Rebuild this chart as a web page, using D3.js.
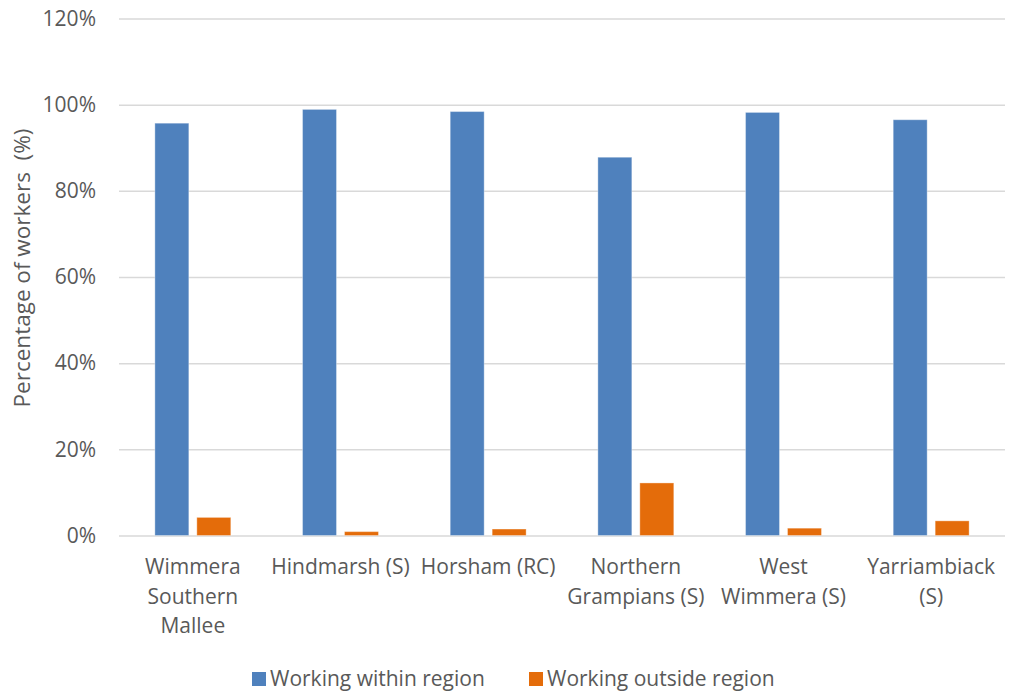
<!DOCTYPE html>
<html>
<head>
<meta charset="utf-8">
<script src="https://cdn.jsdelivr.net/npm/d3@7"></script>
<style>
  html, body { margin: 0; padding: 0; background: #fff; }
  svg text { font-family: "Open Sans", sans-serif; fill: #595959; }
</style>
</head>
<body>
<svg id="chart" width="1015" height="691"></svg>
<script>
const categories = [
  "Wimmera\nSouthern\nMallee",
  "Hindmarsh (S)",
  "Horsham (RC)",
  "Northern\nGrampians (S)",
  "West\nWimmera (S)",
  "Yarriambiack\n(S)"
];
const seriesNames = ["Working within region", "Working outside region"];
const withinRegion = [95.7, 98.9, 98.4, 87.8, 98.2, 96.5];
const outsideRegion = [4.2, 0.9, 1.5, 12.2, 1.7, 3.4];
const yTicks = [0, 20, 40, 60, 80, 100, 120];
const colors = ["#4F81BD", "#E46C0A"];

const svg = d3.select("#chart");
const margin = { left: 119, right: 10, top: 18.5, bottom: 155.5 };
const W = 1015, H = 691;
const x0 = d3.scaleBand().domain(categories).range([margin.left, W - margin.right]).paddingInner(0).paddingOuter(0);
const y = d3.scaleLinear().domain([0, 120]).range([H - margin.bottom, margin.top]);
const barW = x0.bandwidth() * 0.23;
const gap = 8;
const x1 = d3.scaleOrdinal().domain([0, 1]).range([-gap / 2 - barW, gap / 2]);

// gridlines
const yAxis = d3.axisLeft(y).tickValues(yTicks).tickFormat(d => d + "%").tickSize(-(W - margin.left - margin.right)).tickPadding(23);
const gy = svg.append("g").attr("transform", `translate(${margin.left},0)`).call(yAxis);
gy.select(".domain").remove();
gy.selectAll(".tick line").attr("stroke", "#D9D9D9").attr("stroke-width", 1.5);
gy.selectAll(".tick text").attr("font-size", "21px").style("font-family", "'Open Sans', sans-serif").style("fill", "#595959");

const data = [withinRegion, outsideRegion];
data.forEach((vals, si) => {
  svg.append("g").selectAll("rect").data(vals).join("rect")
    .attr("x", (d, i) => x0(categories[i]) + x0.bandwidth() / 2 + x1(si))
    .attr("y", d => y(d))
    .attr("width", barW)
    .attr("height", d => y(0) - y(d))
    .attr("fill", colors[si])
    .attr("stroke", "#ffffff").attr("stroke-opacity", 0.35).attr("stroke-width", 1);
});

// x labels
const xl = svg.append("g");
categories.forEach(c => {
  const lines = c.split("\n");
  const t = xl.append("text")
    .attr("x", x0(c) + x0.bandwidth() / 2)
    .attr("y", 574)
    .attr("text-anchor", "middle")
    .attr("font-size", "21px");
  lines.forEach((ln, i) => t.append("tspan").attr("x", x0(c) + x0.bandwidth() / 2).attr("dy", i === 0 ? 0 : 29.5).text(ln));
});

// y title
svg.append("text")
  .attr("transform", `translate(30,268) rotate(-90)`)
  .attr("text-anchor", "middle")
  .attr("font-size", "22.5px")
  .attr("xml:space", "preserve")
  .style("white-space", "pre")
  .text("Percentage of workers  (%)");

// legend
const legend = svg.append("g");
const legX = [252, 529];
seriesNames.forEach((n, i) => {
  legend.append("rect").attr("x", legX[i]).attr("y", 672).attr("width", 14).attr("height", 14).attr("fill", colors[i]);
  legend.append("text").attr("x", legX[i] + 18).attr("y", 686).attr("font-size", "21px").text(n);
});
</script>
</body>
</html>
